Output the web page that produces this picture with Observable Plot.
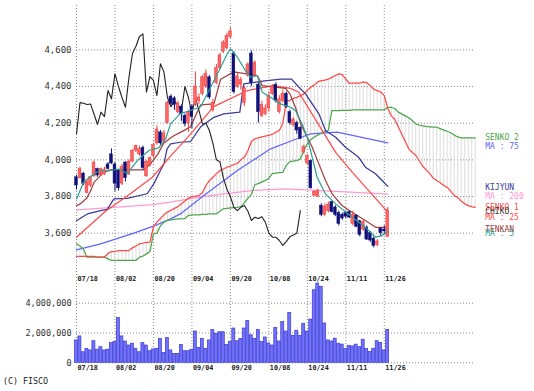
<!DOCTYPE html>
<html><head><meta charset="utf-8">
<script src="https://cdn.jsdelivr.net/npm/d3@7"></script>
<script src="https://cdn.jsdelivr.net/npm/@observablehq/plot@0.6"></script>
<style>
body{margin:0;background:#fff;}
#wrap{position:relative;width:534px;height:391px;overflow:hidden;font-family:"DejaVu Sans Mono",monospace;background:#fff;}
#main{position:absolute;left:0;top:0;}
#vol{position:absolute;left:0;top:262px;}
#copy{position:absolute;left:3px;top:376px;font-size:8.3px;line-height:10px;color:#222;}
</style></head><body>
<div id="wrap"><div id="main"></div><div id="vol"></div><div id="copy">(C) FISCO</div></div>
<script>
// ---- axis / labels ----
const dateIdx = [0, 11, 22, 33, 44, 55, 66, 77, 88];
const dateLabels = ["07/18", "08/02", "08/20", "09/04", "09/20", "10/08", "10/24", "11/11", "11/26"];
const priceTicks = [3600, 3800, 4000, 4200, 4400, 4600];
const volTicks = [0, 2000000, 4000000];

// ---- daily candles (index 0 = 07/18) ----
const opens = [3905,3900,3925,3820,3860,3910,3950,3915,3920,3975,
 4030,3975,3940,3870,3985,3920,3990,4050,4030,4065,
 3910,3970,4020,4090,4150,4100,4200,4345,4335,4260,
 4290,4240,4200,4290,4300,4320,4360,4400,4450,4270,
 4420,4500,4590,4610,4670,4580,4400,4410,4310,4460,
 4580,4460,4410,4240,4250,4280,4360,4410,4260,4320,
 4360,4260,4190,4200,4175,4040,3980,3995,3805,3800,
 3750,3700,3720,3770,3740,3710,3700,3710,3715,3650,
 3695,3665,3620,3630,3600,3570,3535,3625,3620,3580];
const highs = [3915,3960,3930,3890,3910,3995,3955,3955,3960,3985,
 4060,3985,3945,3975,3990,4000,4055,4080,4075,4075,
 3995,4015,4090,4185,4160,4160,4320,4355,4345,4320,
 4300,4250,4270,4300,4480,4360,4460,4490,4460,4330,
 4520,4580,4650,4690,4720,4590,4470,4450,4400,4530,
 4595,4540,4420,4320,4300,4370,4410,4420,4350,4380,
 4370,4270,4230,4210,4180,4080,4030,4000,3830,3840,
 3760,3760,3770,3775,3750,3720,3710,3720,3720,3720,
 3700,3670,3670,3640,3610,3580,3565,3630,3640,3740];
const lows = [3835,3895,3860,3815,3850,3905,3905,3910,3915,3945,
 3975,3825,3830,3860,3880,3915,3985,4040,4020,3945,
 3905,3960,4010,4080,4080,4090,4195,4295,4270,4250,
 4210,4180,4150,4170,4290,4300,4350,4390,4330,4260,
 4410,4490,4580,4600,4660,4360,4390,4380,4290,4450,
 4400,4450,4200,4230,4240,4260,4350,4310,4250,4310,
 4280,4190,4180,4140,4110,4030,3970,3840,3800,3795,
 3690,3690,3710,3710,3690,3640,3670,3680,3680,3640,
 3630,3580,3610,3560,3550,3520,3525,3580,3590,3575];
const closes = [3860,3950,3870,3880,3905,3985,3915,3950,3945,3950,
 3980,3870,3845,3960,3900,3990,4050,4075,4060,3955,
 3990,4010,4080,4165,4090,4145,4310,4305,4300,4305,
 4250,4195,4260,4235,4400,4340,4450,4470,4340,4310,
 4500,4570,4640,4675,4700,4370,4455,4435,4390,4520,
 4420,4530,4260,4300,4280,4350,4400,4320,4330,4360,
 4290,4200,4220,4160,4115,4070,4020,3845,3825,3830,
 3700,3745,3755,3715,3700,3650,3680,3690,3685,3700,
 3635,3590,3660,3565,3560,3530,3555,3600,3610,3725];
const volumes = [1500000,1770000,710000,940000,830000,1450000,880000,1050000,830000,880000,
 1320000,1400000,3000000,1770000,1430000,1160000,1280000,940000,710000,1320000,
 1160000,780000,900000,940000,1610000,650000,1660000,830000,600000,600000,
 1200000,780000,780000,880000,2100000,1000000,1600000,940000,1500000,2200000,
 1950000,2050000,2050000,1200000,1400000,2300000,1450000,1600000,2300000,2800000,
 1850000,1600000,2200000,1400000,1700000,1300000,1160000,2330000,1430000,2730000,
 2100000,3340000,1800000,2150000,1800000,2620000,2100000,2900000,4870000,5320000,
 5100000,2640000,1500000,1430000,1620000,1280000,1220000,920000,1140000,1100000,
 1220000,1050000,1550000,920000,720000,940000,1450000,1320000,830000,2200000];

// ---- Ichimoku spans ----
const chikou = [4142,4312,4309,4302,4305,4250,4193,4260,4236,4378,4333,4470,4400,4340,4287,4450,4580,4620,4673,4687,
 4370,4454,4433,4351,4524,4480,4340,4290,4320,4300,4270,4400,4340,4255,4340,4270,4196,4200,4160,4090,
 4000,3990,3900,3840,3800,3741,3723,3741,3751,3720,3669,3687,3680,3690,3660,3600,3578,3578,3560,3533,
 3555,3580,3590,3600,3723];
const senkou1 = [3474,3474,3474,3474,3474,3474,3470,3470,3470,3490,
 3500,3500,3505,3505,3505,3505,3520,3530,3542,3545,
 3550,3551,3635,3660,3680,3700,3715,3725,3735,3745,
 3760,3775,3790,3800,3802,3805,3820,3860,3887,3905,
 3925,3942,3950,3960,3965,3975,3980,4000,4015,4050,
 4100,4115,4120,4125,4130,4133,4140,4151,4160,4200,
 4320,4325,4335,4341,4350,4360,4380,4396,4410,4425,
 4432,4435,4440,4450,4460,4469,4465,4440,4418,4418,
 4418,4418,4425,4420,4405,4385,4378,4370,4350,4280,
 4240,4220,4180,4140,4100,4060,4040,4025,3995,3965,
 3945,3925,3900,3887,3875,3860,3850,3830,3805,3795,
 3775,3760,3750,3745,3741];
const senkou2 = [3542,3530,3514,3469,3469,3469,3469,3469,3469,3460,
 3451,3451,3451,3451,3451,3451,3451,3451,3469,3475,
 3487,3500,3596,3600,3640,3660,3669,3672,3675,3678,
 3678,3680,3696,3700,3700,3700,3702,3702,3705,3705,
 3705,3720,3733,3735,3738,3740,3741,3745,3765,3790,
 3810,3865,3870,3880,3887,3900,3925,3928,3930,3932,
 3970,3990,3993,3996,4005,4050,4087,4110,4125,4135,
 4145,4155,4160,4269,4269,4269,4270,4270,4270,4272,
 4272,4272,4273,4273,4273,4273,4273,4273,4273,4285,
 4287,4280,4260,4251,4240,4230,4215,4196,4190,4185,
 4182,4180,4178,4178,4170,4162,4156,4148,4135,4125,
 4120,4120,4120,4120,4120];
const tenkanX = [0,1.1,2.9,4,5.1,7.7,9.7,19.2,21.2,23.2,24.9,27.7,29.7,32.6,35.5,39.3,41.2,45,51.7,53.1,59.8,61,62.6,64.1,65.5,67.4,69.3,71.2,73.1,75.9,78.8,82.6,85.5,89];
const tenkan = [3750,3760,3790,3830,3880,3930,3945,3945,3980,4030,4090,4130,4150,4180,4300,4305,4440,4480,4460,4405,4390,4360,4287,4196,4142,4069,3978,3887,3814,3751,3714,3669,3632,3632];
const kijunX = [0,3.1,6.9,8.8,10.7,14.5,20.2,22.1,24,25,25.9,26.9,29.7,32.6,35.5,39.3,42.1,46.7,47.8,54.4,58.6,61.5,63.4,65.5,69.3,71.2,74.1,76.9,80.7,82.6,85.5,87.4,89];
const kijun = [3668,3705,3723,3730,3787,3790,3815,3869,3942,3978,4060,4087,4096,4100,4180,4232,4251,4260,4414,4432,4440,4440,4400,4360,4251,4160,4123,4069,4014,3960,3924,3887,3855];

// ---- moving averages ----
const ma5X = [0,2.1,5.9,9.7,12.1,14.5,17.4,20.7,23.5,25.5,26.9,29.7,32.6,35.5,39.3,43.1,44,46,48.3,49.8,51.7,53.1,55.5,58.3,61.2,62.6,64.5,66,67.4,68.8,71.2,74.1,78.8,82.6,85.5,87.4,89];
const ma5 = [3787,3880,3935,3942,3950,3925,3996,4051,4065,4115,4196,4252,4269,4290,4432,4578,4605,4560,4487,4451,4460,4369,4341,4305,4287,4269,4196,4123,4014,3905,3814,3760,3687,3632,3578,3587,3610];
const ma25X = [0,8.3,15.4,21.7,26.9,32.6,39.2,48.9,56.3,61.2,63.5,74.1,78.9,89];
const ma25 = [3578,3720,3815,3905,4020,4140,4290,4378,4405,4390,4370,4041,3932,3715];
const ma75X = [0,6.9,16.4,22,26.9,29.7,36.4,46,55.5,61,63.1,66.9,74.5,89];
const ma75 = [3509,3542,3600,3638,3678,3705,3805,3942,4060,4100,4115,4142,4151,4092];
const ma200X = [0,8.6,21.7,26.9,36.3,50.6,59.8,75.5,89];
const ma200 = [3727,3738,3756,3769,3801,3833,3842,3827,3813];

// ---- build ----
const C = {red:"#ff6464", redEdge:"#f03c3c", navy:"#10107a", teal:"#2f9f95", ma25:"#ff4a4a", ma75:"#6464ff",
  ma200:"#ff9ad0", tenkan:"#a04040", kijun:"#3a3a98", s1:"#ff4848", s2:"#4ca64c", chikou:"#222", grid:"#8a8a8a"};
const pts = (xs, ys) => xs.map((x, k) => ({x, y: ys[k]}));
const candles = opens.map((o, i) => ({i, o, h: highs[i], l: lows[i], c: closes[i]}));
const up = candles.filter(d => d.c >= d.o), down = candles.filter(d => d.c < d.o);
const spanIdx = d3.range(senkou1.length);
const dotted = {stroke: C.grid, strokeOpacity: 1, strokeDasharray: "1,2", strokeWidth: 1};
const font = {fontFamily: "'DejaVu Sans Mono', monospace"};

const lineMark = (data, color, w = 1.25) => Plot.line(data, {x: "x", y: "y", stroke: color, strokeWidth: w});

const legend = [
  {t: "SENKO 2", v: senkou2[senkou2.length-1], c: C.s2, dy: 0},
  {t: "MA : 75", v: ma75[ma75.length-1], c: C.ma75, dy: 3},
  {t: "KIJYUN", v: kijun[kijun.length-1], c: C.kijun, dy: 1},
  {t: "MA : 200", v: ma200[ma200.length-1], c: C.ma200, dy: 2.5},
  {t: "SENKO 1", v: senkou1[senkou1.length-1], c: C.s1, dy: 0},
  {t: "CHIKO", v: chikou[chikou.length-1], c: "#333", dy: 1},
  {t: "MA : 25", v: ma25[ma25.length-1], c: C.ma25, dy: 5},
  {t: "TENKAN", v: tenkan[tenkan.length-1], c: C.tenkan, dy: 2},
  {t: "MA : 5", v: ma5[ma5.length-1], c: C.teal, dy: 2.5}
];

const main = Plot.plot({
  width: 534, height: 262,
  marginLeft: 76, marginRight: 59.3, marginTop: 5, marginBottom: 0,
  x: {domain: [0, 114], axis: null},
  y: {domain: [3440, 4842], axis: null},
  style: {...font, fontSize: "9px", background: "transparent", overflow: "visible"},
  marks: [
    Plot.ruleY(priceTicks, {y: d => d, ...dotted}),
    Plot.ruleX(dateIdx, {x: d => d, ...dotted}),
    Plot.text(priceTicks, {y: d => d, text: d => d3.format(",")(d), frameAnchor: "left", textAnchor: "end", dx: -5, fontSize: 9, fill: "#333"}),
    Plot.ruleX(spanIdx, {x: d => d, y1: d => senkou1[d], y2: d => senkou2[d], stroke: "#cfcfcf", strokeWidth: 0.7}),
    lineMark(pts(ma200X, ma200), C.ma200),
    lineMark(pts(ma75X, ma75), C.ma75),
    Plot.line(spanIdx, {x: d => d, y: d => senkou2[d], stroke: C.s2, strokeWidth: 1.25}),
    Plot.line(spanIdx, {x: d => d, y: d => senkou1[d], stroke: C.s1, strokeWidth: 1.25}),
    lineMark(pts(kijunX, kijun), C.kijun),
    lineMark(pts(ma25X, ma25), C.ma25),
    lineMark(pts(tenkanX, tenkan), C.tenkan),
    Plot.line(chikou, {x: (d, i) => i, y: d => d, stroke: C.chikou, strokeWidth: 1.1}),
    Plot.ruleX(up, {x: "i", y1: "l", y2: "h", stroke: C.redEdge, strokeWidth: 1}),
    Plot.ruleX(down, {x: "i", y1: "l", y2: "h", stroke: C.navy, strokeWidth: 1}),
    Plot.rect(up, {x1: d => d.i - 0.4, x2: d => d.i + 0.4, y1: "o", y2: "c", fill: C.red, stroke: C.redEdge, strokeWidth: 0.5}),
    Plot.rect(down, {x1: d => d.i - 0.4, x2: d => d.i + 0.4, y1: "o", y2: "c", fill: C.navy, stroke: C.navy, strokeWidth: 0.5}),
    lineMark(pts(ma5X, ma5), C.teal, 1.2),
    ...legend.map(L => Plot.text([L], {y: "v", text: "t", frameAnchor: "right", textAnchor: "start", dx: 10, dy: L.dy, fill: L.c, fontSize: 8}))
  ]
});
document.getElementById("main").appendChild(main);

const volRows = volumes.map((v, i) => ({i, v}));
const vol = Plot.plot({
  width: 534, height: 112,
  marginLeft: 76, marginRight: 59.3, marginTop: 0, marginBottom: 11.7,
  x: {domain: [0, 114], axis: null},
  y: {domain: [0, 6730000], axis: null},
  style: {...font, fontSize: "8px", background: "transparent", overflow: "visible"},
  marks: [
    Plot.ruleY(volTicks, {y: d => d, ...dotted}),
    Plot.ruleX(dateIdx, {x: d => d, ...dotted}),
    Plot.text(volTicks, {y: d => d, text: d => d3.format(",")(d), frameAnchor: "left", textAnchor: "end", dx: -5, fontSize: 8.5, fill: "#333"}),
    Plot.rect(volRows, {x1: d => d.i - 0.45, x2: d => d.i + 0.4, y1: 0, y2: "v", fill: "#7272ff", stroke: "#3a3ac8", strokeWidth: 0.7}),
    Plot.text(dateIdx, {x: d => d, text: (d, k) => dateLabels[k], frameAnchor: "top", dy: 14, dx: 1, textAnchor: "start", fontSize: 6.8, fontWeight: "bold", fill: "#222"}),
    Plot.text(dateIdx, {x: d => d, text: (d, k) => dateLabels[k], frameAnchor: "bottom", dy: 7, dx: 1, textAnchor: "start", fontSize: 6.8, fontWeight: "bold", fill: "#222"})
  ]
});
document.getElementById("vol").appendChild(vol);
</script>
</body></html>
